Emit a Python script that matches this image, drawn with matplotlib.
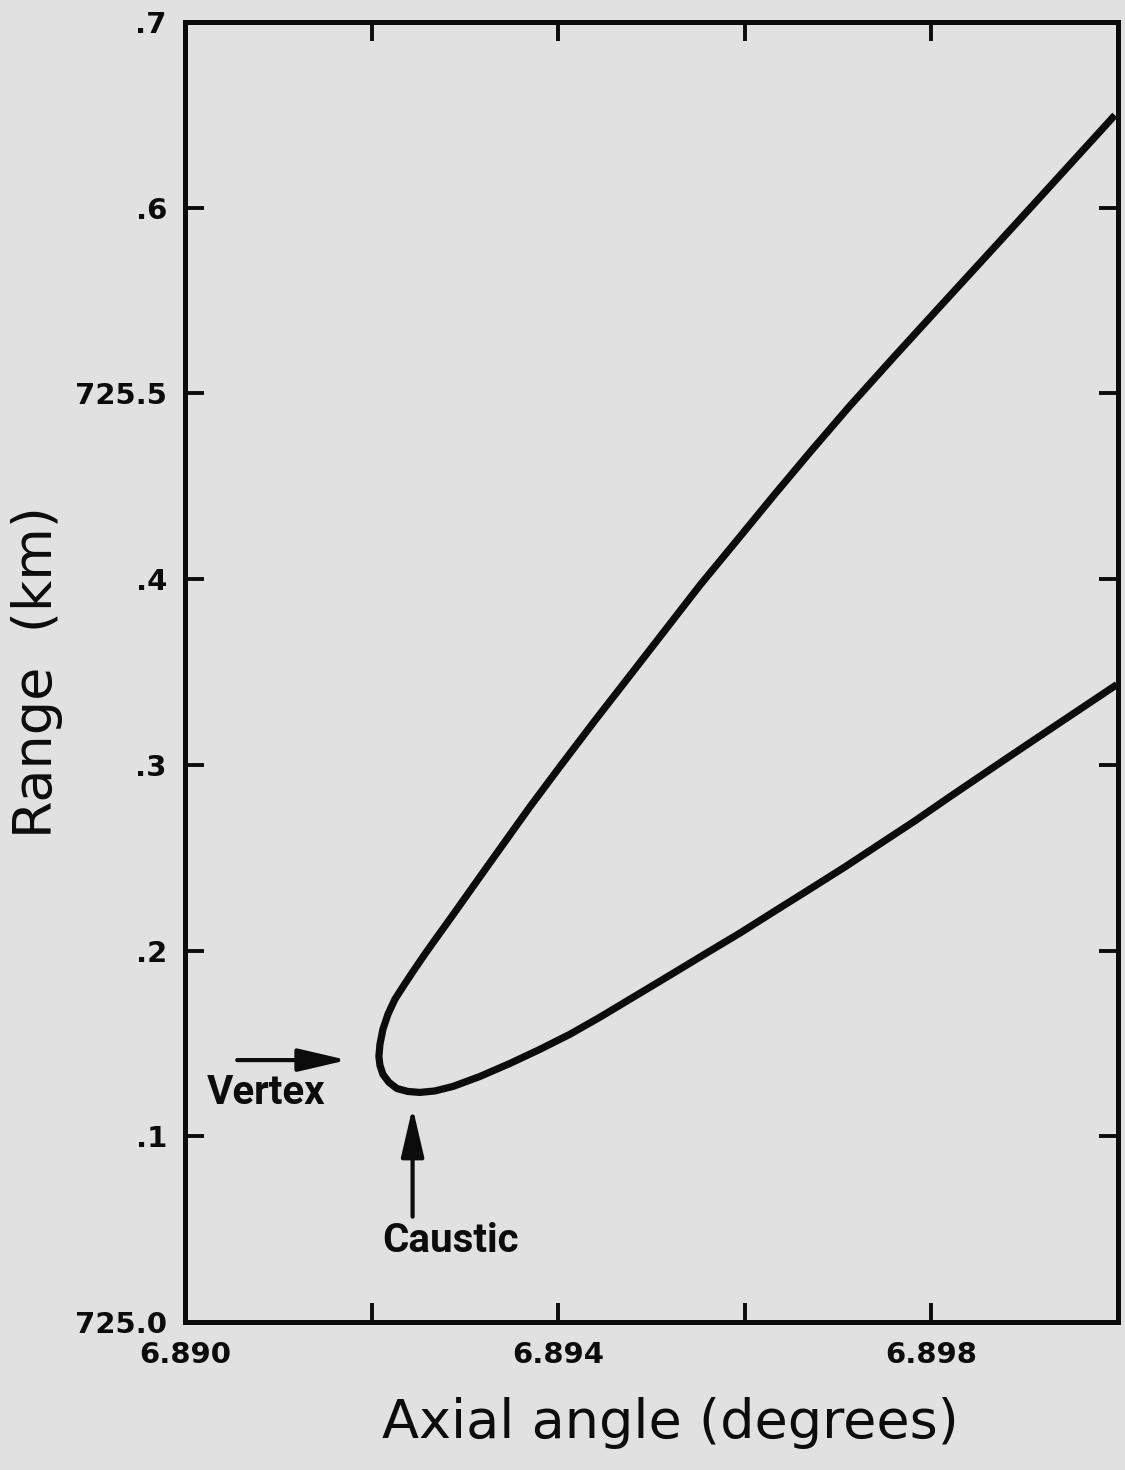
import matplotlib
matplotlib.use("Agg")
import matplotlib.pyplot as plt
import numpy as np

# branch of the range / axial-angle curve below the vertex (caustic side)
lower_angle = [6.892079, 6.892090, 6.892122, 6.892187, 6.892272, 6.892390, 6.892519,
               6.892680, 6.892872, 6.893162, 6.893483, 6.893805, 6.894126, 6.894448,
               6.894823, 6.895198, 6.895573, 6.895949, 6.896324, 6.896699, 6.897074,
               6.897449, 6.897824, 6.898199, 6.898628, 6.899057, 6.899539, 6.899989]
lower_range = [725.1430, 725.1382, 725.1333, 725.1290, 725.1257, 725.1241, 725.1236,
               725.1244, 725.1268, 725.1322, 725.1392, 725.1468, 725.1549, 725.1641,
               725.1754, 725.1867, 725.1981, 725.2094, 725.2213, 725.2331, 725.2450,
               725.2574, 725.2698, 725.2828, 725.2974, 725.3119, 725.3281, 725.3432]

# branch above the vertex
upper_angle = [6.892079, 6.892090, 6.892122, 6.892176, 6.892251, 6.892347, 6.892454,
               6.892572, 6.892701, 6.892840, 6.893001, 6.893237, 6.893483, 6.893698,
               6.894019, 6.894394, 6.894770, 6.895145, 6.895520, 6.895927, 6.896324,
               6.896720, 6.897128, 6.897610, 6.898092, 6.898574, 6.899057, 6.899507,
               6.899968]
upper_range = [725.1430, 725.1495, 725.1576, 725.1657, 725.1738, 725.1813, 725.1894,
               725.1981, 725.2072, 725.2169, 725.2283, 725.2450, 725.2623, 725.2774,
               725.2990, 725.3238, 725.3481, 725.3724, 725.3967, 725.4215, 725.4458,
               725.4695, 725.4933, 725.5202, 725.5467, 725.5731, 725.5996, 725.6244,
               725.6498]

x_ticks = [6.890, 6.892, 6.894, 6.896, 6.898, 6.900]
x_labels = ["6.890", "", "6.894", "", "6.898", ""]
y_ticks = [725.0, 725.1, 725.2, 725.3, 725.4, 725.5, 725.6, 725.7]
y_labels = ["725.0", ".1", ".2", ".3", ".4", "725.5", ".6", ".7"]

vertex_point = (6.89174, 725.141)
vertex_tail = (6.89056, 725.141)
caustic_point = (6.89244, 725.1155)
caustic_tail = (6.89244, 725.0567)

paper = "#e1e1e1"
ink = "#0c0c0c"

fig = plt.figure(figsize=(11.25, 14.7), dpi=100, facecolor=paper)
ax = fig.add_axes([0.1644, 0.1007, 0.8293, 0.8844], facecolor=paper)

# one continuous line: lower branch reversed, then up the upper branch
xs = np.concatenate([lower_angle[::-1], upper_angle[1:]])
ys = np.concatenate([lower_range[::-1], upper_range[1:]])
ax.plot(xs, ys, color=ink, lw=5.2, solid_joinstyle="round", solid_capstyle="butt")

ax.set_xlim(6.890, 6.900)
ax.set_ylim(725.0, 725.7)
ax.set_xticks(x_ticks)
ax.set_xticklabels(x_labels)
ax.set_yticks(y_ticks)
ax.set_yticklabels(y_labels)

for side in ["top", "bottom", "left", "right"]:
    ax.spines[side].set_linewidth(3.6)
    ax.spines[side].set_color(ink)

ax.tick_params(direction="in", length=14, width=2.8, color=ink,
               top=True, right=True, labelsize=21, labelcolor=ink)
ax.tick_params(axis="x", pad=14)
ax.tick_params(axis="y", pad=13)
for lab in ax.get_xticklabels() + ax.get_yticklabels():
    lab.set_fontweight("bold")

ax.set_xlabel("Axial angle (degrees)", fontsize=39, color=ink)
ax.xaxis.set_label_coords(0.52, -0.058)
ax.set_ylabel("Range  (km)", fontsize=39, color=ink)
ax.yaxis.set_label_coords(-0.131, 0.5)

arrow = dict(arrowstyle="-|>,head_length=3.0,head_width=0.7", color=ink, lw=3,
             shrinkA=0, shrinkB=0, mutation_scale=10)
ax.annotate("", xy=vertex_point, xytext=vertex_tail, arrowprops=arrow)
ax.annotate("", xy=caustic_point, xytext=caustic_tail, arrowprops=arrow)

ax.text(6.89024, 725.1235, "Vertex", fontsize=29, family="Roboto", weight="bold",
        color=ink, ha="left", va="center")
ax.text(6.89285, 725.0435, "Caustic", fontsize=29, family="Roboto", weight="bold",
        color=ink, ha="center", va="center")

fig.savefig("out.png", dpi=100, facecolor=paper)
